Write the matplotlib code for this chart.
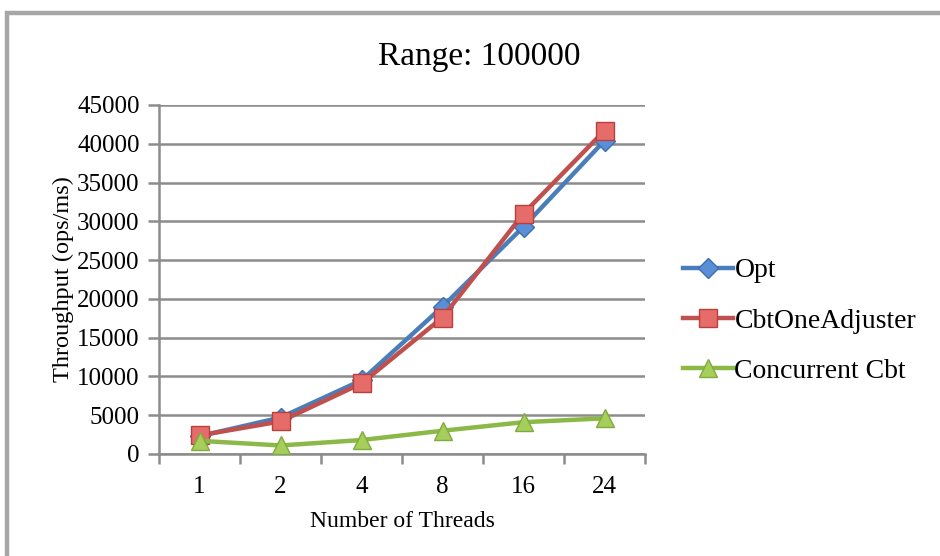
import matplotlib
matplotlib.use("Agg")
import matplotlib.pyplot as plt
from matplotlib.patches import Rectangle
import numpy as np

threads = ["1", "2", "4", "8", "16", "24"]
opt = [2300, 4700, 9500, 19000, 29300, 40400]
cbt_one_adjuster = [2400, 4200, 9100, 17600, 31000, 41700]
concurrent_cbt = [1700, 1100, 1800, 3000, 4100, 4600]
y_ticks = [0, 5000, 10000, 15000, 20000, 25000, 30000, 35000, 40000, 45000]

plt.rcParams["font.family"] = ["Liberation Serif", "DejaVu Serif"]

W, H = 940, 556
fig = plt.figure(figsize=(W / 100, H / 100), dpi=100)
fig.patch.set_facecolor("white")

# outer chart frame (runs off the right and bottom edges)
fig.add_artist(Rectangle((7.5 / W, -0.1), 1.2, 1.1 - 12.5 / H,
                         transform=fig.transFigure, fill=False,
                         edgecolor="#a6a6a6", linewidth=3.2))

left, right, top, bottom = 159, 645, 105, 454
ax = fig.add_axes([left / W, 1 - bottom / H, (right - left) / W, (bottom - top) / H])

x = np.arange(len(threads))
grid_c = "#8c8c8c"

ax.plot(x, opt, color="#4a7ebb", linewidth=3.2, marker="D", markersize=10,
        markerfacecolor="#5a8fd6", markeredgecolor="#3d6fb0", markeredgewidth=1,
        label="Opt", zorder=3)
ax.plot(x, cbt_one_adjuster, color="#c0504d", linewidth=3.2, marker="s", markersize=13,
        markerfacecolor="#e66c6a", markeredgecolor="#b8413e", markeredgewidth=1,
        label="CbtOneAdjuster", zorder=4)
ax.plot(x, concurrent_cbt, color="#8cb847", linewidth=3.2, marker="^", markersize=13,
        markerfacecolor="#a5cf5a", markeredgecolor="#80ab3f", markeredgewidth=1,
        label="Concurrent Cbt", zorder=5)

ax.set_xlim(-0.5, len(threads) - 0.5)
ax.set_ylim(0, 45000)
ax.set_yticks(y_ticks)
ax.set_yticklabels([str(v) for v in y_ticks], fontsize=18)
ax.set_xticks(x)
ax.set_xticklabels(threads, fontsize=18)
ax.set_xticks(np.arange(len(threads) + 1) - 0.5, minor=True)

ax.grid(axis="y", color=grid_c, linewidth=1.8, zorder=0)
ax.set_axisbelow(True)
for s in ["top", "right"]:
    ax.spines[s].set_visible(False)
for s in ["left", "bottom"]:
    ax.spines[s].set_color(grid_c)
    ax.spines[s].set_linewidth(1.8)

ax.tick_params(axis="y", which="major", length=8, width=1.8, color=grid_c, pad=6)
ax.tick_params(axis="x", which="major", length=0, pad=16)
ax.tick_params(axis="x", which="minor", length=7, width=1.8, color=grid_c)

ax.set_xlabel("Number of Threads", fontsize=17, labelpad=9)
ax.set_ylabel("Throughput (ops/ms)", fontsize=17.5, labelpad=2)
fig.text(479 / W, 1 - 57 / H, "Range: 100000", fontsize=24, ha="center", va="center")

leg = fig.legend(loc="center left", bbox_to_anchor=(683 / W, 1 - 321 / H),
                 frameon=False, fontsize=20, handlelength=1.8, handletextpad=0.05,
                 labelspacing=0.9, borderpad=0, borderaxespad=0)

fig.savefig("out.png", dpi=100, facecolor="white")
